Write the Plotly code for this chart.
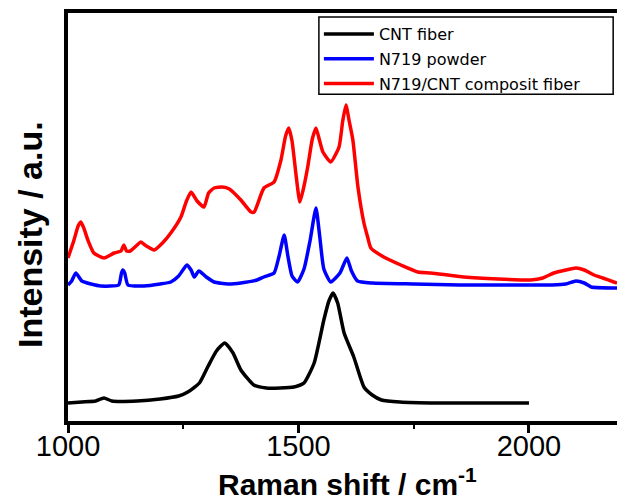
import plotly.graph_objects as go

# ---- data (intensity in arbitrary units) ----
cnt_x = [1000, 1030, 1060, 1078, 1095, 1150, 1200, 1240, 1260, 1285, 1303, 1322, 1340, 1358,
         1375, 1403, 1430, 1460, 1490, 1512, 1534, 1555, 1566, 1575, 1585, 1599, 1620, 1642,
         1660, 1680, 1720, 1800, 1900, 2000]
cnt_y = [18, 19, 20, 23, 20, 20, 22, 25, 29, 38, 54, 70, 78, 68,
         51, 36, 33, 33, 34, 38, 58, 101, 120, 128, 118, 88, 64, 34,
         26, 21, 19, 18, 18, 18]

n719_x = [1000, 1008, 1017, 1030, 1050, 1071, 1110, 1116, 1119, 1123, 1130, 1165, 1200, 1223,
          1240, 1258, 1267, 1274, 1284, 1300, 1317, 1347, 1375, 1410, 1425, 1447, 1458, 1469,
          1477, 1486, 1498, 1512, 1525, 1538, 1546, 1555, 1570, 1590, 1605, 1615, 1628, 1660,
          1750, 1850, 1950, 2050, 2080, 2102, 2120, 2135, 2191]
n719_y = [136, 140, 148, 140, 137, 135, 136, 148, 151, 148, 136, 135, 137, 139,
          145, 156, 151, 144, 150, 144, 139, 137, 138, 141, 144, 148, 165, 186,
          165, 145, 139, 152, 180, 213, 185, 152, 139, 148, 163, 150, 140, 138,
          137, 136, 136, 136, 137, 140, 138, 134, 133]

comp_x = [1000, 1013, 1022, 1028, 1035, 1043, 1056, 1078, 1100, 1115, 1121, 1127, 1135, 1150,
          1158, 1170, 1187, 1205, 1223, 1245, 1257, 1267, 1280, 1295, 1305, 1317, 1335, 1350,
          1375, 1397, 1404, 1425, 1447, 1462, 1472, 1479, 1486, 1495, 1503, 1512, 1520, 1530,
          1538, 1546, 1553, 1570, 1588, 1596, 1603, 1610, 1618, 1629, 1642, 1650, 1657, 1685,
          1722, 1759, 1787, 1859, 1933, 2004, 2030, 2054, 2080, 2102, 2120, 2141, 2160, 2184,
          2191]
comp_y = [163, 181, 195, 199, 192, 181, 168, 163, 168, 170, 176, 170, 170, 176,
          179, 175, 171, 178, 188, 204, 220, 229, 220, 214, 228, 233, 234, 232,
          221, 209, 209, 233, 239, 261, 285, 293, 280, 245, 219, 235, 254, 282,
          293, 280, 269, 259, 274, 300, 316, 300, 281, 234, 198, 184, 173, 164,
          156, 149, 148, 144, 142, 141, 143, 148, 151, 153, 151, 146, 143, 139,
          138]

series = [
    ("CNT fiber", cnt_x, cnt_y, "#000000"),
    ("N719 powder", n719_x, n719_y, "#0000FF"),
    ("N719/CNT composit fiber", comp_x, comp_y, "#FF0000"),
]
x_ticks = [1000, 1500, 2000]
x_title = "<b>Raman shift / cm<sup>-1</sup></b>"
y_title = "<b>Intensity / a.u.</b>"

fig = go.Figure()
for name, xs, ys, col in series:
    fig.add_trace(go.Scatter(x=xs, y=ys, mode="lines", name=name, legendgroup=name,
                             line=dict(color=col, width=3.5, shape="spline", smoothing=0.5)))

fig.update_layout(
    width=617, height=501,
    margin=dict(l=68, r=0, t=13, b=80, autoexpand=False),
    paper_bgcolor="white", plot_bgcolor="white",
    showlegend=True,
    legend=dict(x=0.457, y=0.99, xanchor="left", yanchor="top",
                bgcolor="rgba(0,0,0,0)", borderwidth=0,
                font=dict(family="DejaVu Sans", size=16, color="black"),
                itemwidth=50, tracegroupgap=1),
    font=dict(family="Liberation Sans, Arial", color="black"),
    shapes=[
        dict(type="rect", xref="paper", yref="paper", x0=0.457, x1=0.993, y0=0.801, y1=0.990,
             line=dict(color="black", width=1.5), fillcolor="white", layer="below"),
    ],
    annotations=[
        dict(text=x_title, xref="paper", yref="paper", x=0.51, y=-0.150,
             xanchor="center", yanchor="middle", showarrow=False,
             font=dict(family="Liberation Sans, Arial", size=30, color="black")),
        dict(text=y_title, xref="paper", yref="paper", x=-0.069, y=0.456,
             xanchor="center", yanchor="middle", showarrow=False, textangle=-90,
             font=dict(family="Liberation Sans, Arial", size=34, color="black")),
    ],
)
fig.update_xaxes(
    range=[1000, 2191], showgrid=False, zeroline=False, automargin=False,
    showline=True, linecolor="black", linewidth=4, mirror=True,
    tickmode="array", tickvals=x_ticks, ticktext=[str(v) for v in x_ticks],
    ticks="outside", ticklen=8, tickwidth=3, tickcolor="black",
    ticklabelstandoff=-12,
    tickfont=dict(family="Liberation Sans, Arial", size=29, color="black"),
    minor=dict(dtick=250, tick0=1000, ticks="outside", ticklen=4, tickwidth=2, tickcolor="black"),
)
fig.update_yaxes(
    range=[0, 408], showgrid=False, zeroline=False, automargin=False,
    showline=True, linecolor="black", linewidth=4, mirror=False,
    showticklabels=False, ticks="",
)

fig.write_html("out.html", config={"displayModeBar": False, "staticPlot": True},
               post_script="document.body.style.margin='0px';document.body.style.overflow='hidden';")
